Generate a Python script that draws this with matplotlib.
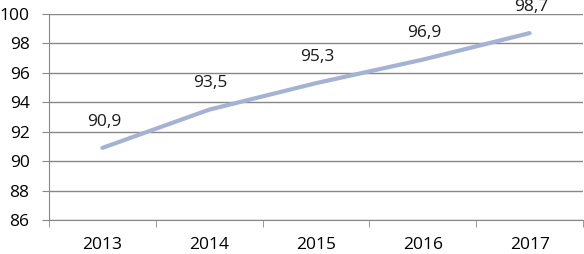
import matplotlib.pyplot as plt

years = ['2013', '2014', '2015', '2016', '2017']
values = [90.9, 93.5, 95.3, 96.9, 98.7]
labels = ['90,9', '93,5', '95,3', '96,9', '98,7']

plt.rcParams['font.family'] = ['Open Sans', 'DejaVu Sans']

fig = plt.figure(figsize=(5.84, 2.54), dpi=100)
ax = fig.add_axes([49/584, 34/254, 534/584, 206/254])

x = range(len(years))
ax.plot(x, values, color='#A4B2D3', linewidth=3, solid_capstyle='round', zorder=3)
for i, (v, t) in enumerate(zip(values, labels)):
    ax.annotate(t, (i, v), xytext=(1, 19), textcoords='offset points',
                ha='center', va='center', fontsize=12.5, color='#1a1a1a')

ax.set_xlim(-0.5, 4.5)
ax.set_ylim(86, 100)
ax.set_yticks(range(86, 101, 2))
ax.yaxis.grid(True, color='#888888', linewidth=1)
ax.set_axisbelow(True)

ax.set_xticks(list(x))
ax.set_xticklabels(years)
ax.set_xticks([i - 0.5 for i in range(6)], minor=True)
ax.tick_params(axis='x', which='major', length=0, pad=12, labelsize=12.5)
ax.tick_params(axis='x', which='minor', length=5, color='#888888')
ax.tick_params(axis='y', length=5, color='#888888', labelsize=12.5, pad=9)

for s in ['top', 'right']:
    ax.spines[s].set_visible(False)
for s in ['left', 'bottom']:
    ax.spines[s].set_color('#888888')

fig.savefig('out.png', dpi=100)
